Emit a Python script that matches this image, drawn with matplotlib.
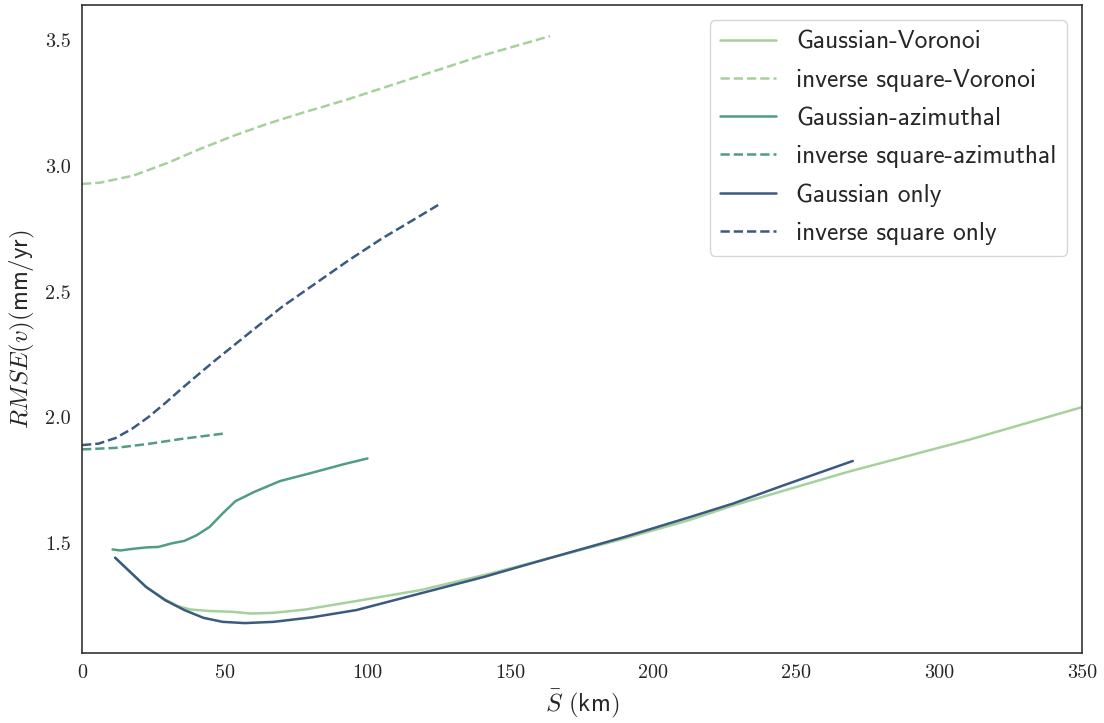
import numpy as np
import matplotlib
matplotlib.use("Agg")
import matplotlib.pyplot as plt
import seaborn as sns

# RMSE of velocity vs mean spacing S-bar (km)
gv_x = [11.6, 16.8, 22.4, 29.1, 33.5, 38.0, 44.7, 52.5, 59.2, 67.1, 78.2, 96.1,
        118.4, 140.8, 163.2, 190.0, 212.3, 228.0, 268.2, 310.7, 350.0]
gv_y = [1.442, 1.386, 1.326, 1.276, 1.250, 1.236, 1.230, 1.227, 1.220, 1.223, 1.236, 1.270,
        1.313, 1.373, 1.439, 1.519, 1.591, 1.650, 1.784, 1.912, 2.041]

isv_x = [0.0, 6.3, 17.9, 29.8, 41.3, 52.9, 64.8, 76.3, 92.6, 115.9, 139.3, 163.8]
isv_y = [2.929, 2.934, 2.962, 3.012, 3.068, 3.120, 3.168, 3.209, 3.264, 3.350, 3.437, 3.517]

ga_x = [10.7, 13.4, 16.8, 22.4, 26.8, 31.3, 35.8, 40.2, 44.7, 49.2, 53.7, 60.3,
        69.3, 80.5, 91.6, 99.9]
ga_y = [1.475, 1.471, 1.476, 1.483, 1.485, 1.499, 1.509, 1.532, 1.565, 1.618, 1.667, 1.704,
        1.747, 1.780, 1.814, 1.837]

isa_x = [0.0, 11.7, 23.3, 35.0, 49.6]
isa_y = [1.873, 1.879, 1.895, 1.915, 1.936]

go_x = [11.6, 16.8, 22.4, 29.1, 35.8, 42.5, 49.2, 57.0, 67.1, 80.5, 96.1, 118.4,
        140.8, 163.2, 190.0, 212.3, 228.0, 245.8, 269.8]
go_y = [1.442, 1.386, 1.326, 1.273, 1.234, 1.203, 1.187, 1.182, 1.187, 1.205, 1.234, 1.300,
        1.366, 1.439, 1.525, 1.602, 1.658, 1.731, 1.827]

iso_x = [0.0, 5.8, 11.7, 17.5, 23.3, 29.2, 35.0, 40.8, 46.7, 58.3, 70.0, 81.7,
         93.3, 105.0, 116.7, 125.8]
iso_y = [1.890, 1.896, 1.918, 1.955, 2.002, 2.058, 2.116, 2.172, 2.228, 2.334, 2.440, 2.533,
         2.625, 2.712, 2.791, 2.853]

c_light = "#a6d09c"
c_mid = "#509c84"
c_dark = "#3a5a80"

sns.set_style("white")
plt.rcParams['mathtext.fontset'] = 'cm'
plt.rcParams['axes.formatter.use_mathtext'] = True

fig = plt.figure(figsize=(11.04, 7.23), dpi=100)
ax = fig.add_axes([0.0743, 0.0968, 0.9057, 0.896])

lw = 1.8
ax.plot(gv_x, gv_y, color=c_light, lw=lw, label="Gaussian-Voronoi")
ax.plot(isv_x, isv_y, color=c_light, lw=lw, ls="--", label="inverse square-Voronoi")
ax.plot(ga_x, ga_y, color=c_mid, lw=lw, label="Gaussian-azimuthal")
ax.plot(isa_x, isa_y, color=c_mid, lw=lw, ls="--", label="inverse square-azimuthal")
ax.plot(go_x, go_y, color=c_dark, lw=lw, label="Gaussian only")
ax.plot(iso_x, iso_y, color=c_dark, lw=lw, ls="--", label="inverse square only")

ax.set_xlim(0, 350)
ax.set_ylim(1.063, 3.64)
ax.set_xticks(np.arange(0, 351, 50))
ax.set_yticks([1.5, 2.0, 2.5, 3.0, 3.5])
ax.set_xticklabels([str(v) for v in range(0, 351, 50)])
ax.set_yticklabels(["1.5", "2.0", "2.5", "3.0", "3.5"])
for lab in ax.get_xticklabels() + ax.get_yticklabels():
    lab.set_fontfamily("cmr10")
    lab.set_fontsize(14.5)
ax.tick_params(axis="both", length=0, pad=8)

ax.set_xlabel(r"$\bar{S}$ $(\mathsf{km})$", fontsize=18, labelpad=4)
ax.set_ylabel(r"$RMSE(v)(\mathsf{mm/yr})$", fontsize=18, labelpad=6)

for sp in ax.spines.values():
    sp.set_color("#333333")
    sp.set_linewidth(1.2)

ax.legend(loc="upper right", prop={"family": "cmss10", "size": 18.3},
          handlelength=2.2, labelspacing=0.6, borderaxespad=0.6,
          fancybox=True, edgecolor="0.8")

fig.savefig("out.png", dpi=100)
